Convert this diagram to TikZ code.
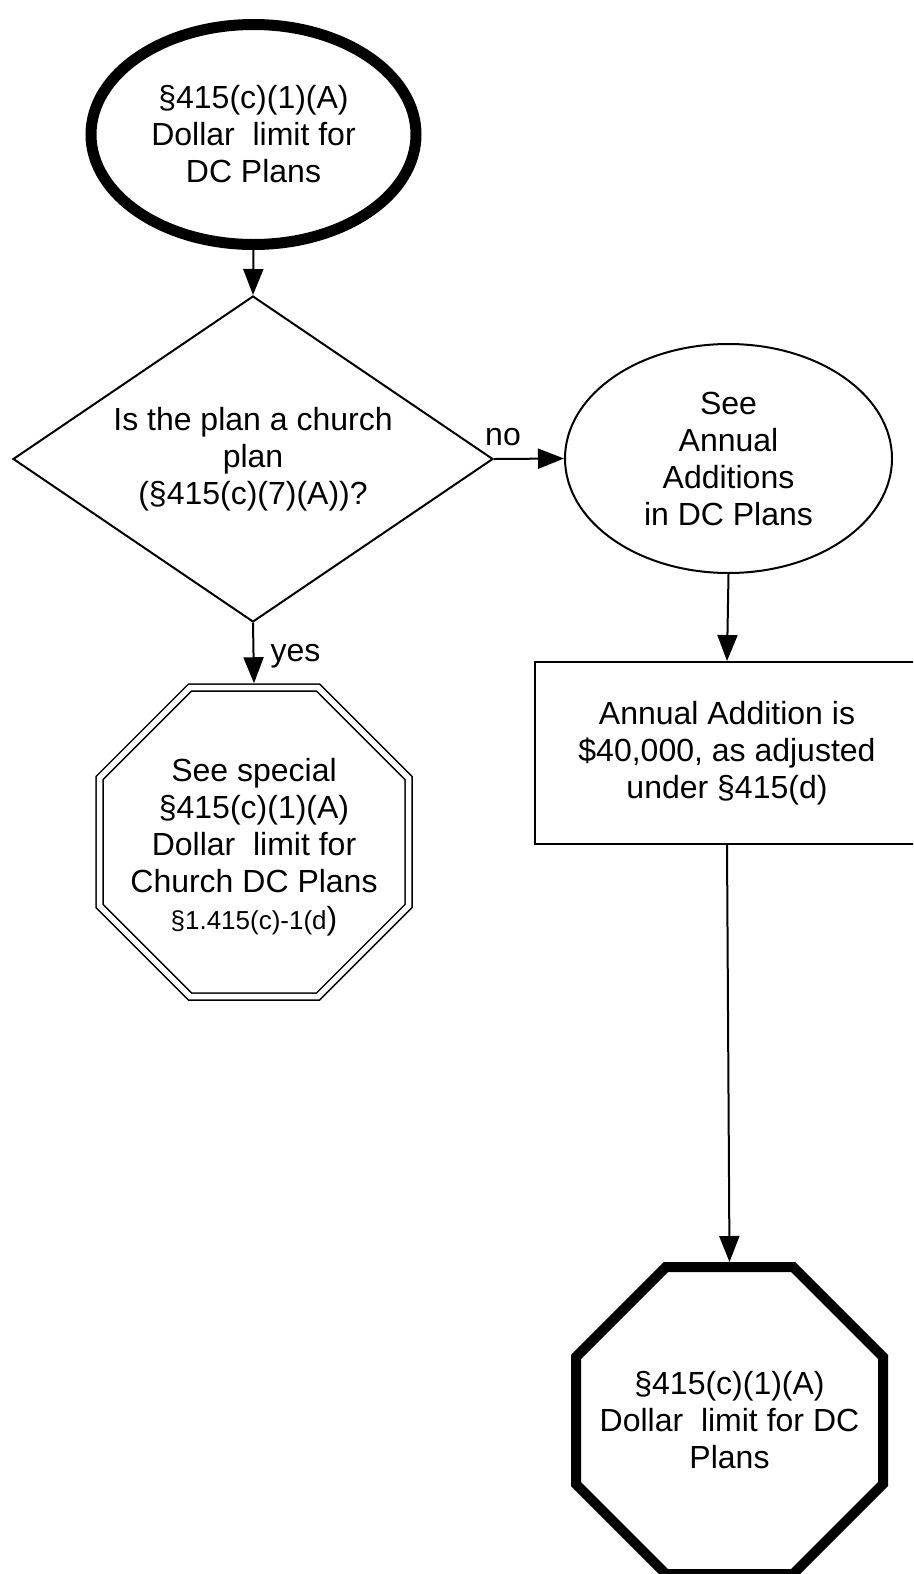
\documentclass[tikz,border=0pt]{standalone}
\usepackage{fontspec}
\setmainfont{Liberation Sans}
\usetikzlibrary{shapes.geometric,arrows.meta}

% Regular octagon with flat top, drawn around a node's centre.
% #1 draw options, #2 node name, #3 apothem (half the flat-to-flat width)
\newcommand\drawoctagon[3]{%
  \draw[#1, shift={(#2.center)}]
    ({-#3*0.414214},{-#3}) -- ({#3*0.414214},{-#3}) --
    ({#3},{-#3*0.414214}) -- ({#3},{#3*0.414214}) --
    ({#3*0.414214},{#3}) -- ({-#3*0.414214},{#3}) --
    ({-#3},{#3*0.414214}) -- ({-#3},{-#3*0.414214}) -- cycle;}

\begin{document}
\begin{tikzpicture}[x=1pt,y=-1pt,
  every node/.style={font=\fontsize{32}{37}\selectfont, align=center, inner sep=0pt},
  flow/.style={draw, line width=2pt, -{Triangle[length=26pt,width=20pt]}},
  thinline/.style={draw, line width=2pt},
  lbl/.style={font=\fontsize{32}{37}\selectfont}]

% page area
\useasboundingbox (0,0) rectangle (913,1574);
\fill[white] (0,0) rectangle (913,1574);
\clip (0,0) rectangle (913,1574);

% start: thick ellipse
\node[draw, ellipse, line width=11pt, minimum width=325pt, minimum height=220pt]
  (start) at (253.5,134.5) {§415(c)(1)(A)\\Dollar\ \ limit for\\DC Plans};

% decision
\node[thinline, diamond, aspect=1.47, minimum width=480pt, minimum height=326pt]
  (church) at (253,459) {Is the plan a church\\plan\\(§415(c)(7)(A))?};

% reference to annual additions
\node[thinline, ellipse, minimum width=327pt, minimum height=229pt]
  (annual) at (728.5,458.5) {See\\Annual\\Additions\\in DC Plans};

% annual addition amount
\node[thinline, rectangle, minimum width=384pt, minimum height=182pt]
  (amount) at (727,753) {Annual Addition is\\\$40,000, as adjusted\\under §415(d)};

% church plan terminal: double octagon
\node[minimum width=309pt, minimum height=309pt, outer sep=4.25pt]
  (special) at (254,842)
  {\rule{0pt}{33pt}See special\\§415(c)(1)(A)\\Dollar\ \ limit for\\Church DC Plans\\{\fontsize{26}{37}\selectfont §1.415(c)-1(d})};
\drawoctagon{double, line width=1.5pt, double distance=5.5pt}{special}{154.5}

% final terminal: thick octagon
\node[minimum width=307pt, minimum height=307pt, outer sep=5pt]
  (final) at (729.5,1420.5) {§415(c)(1)(A)\\Dollar\ \ limit for DC\\Plans};
\drawoctagon{line width=10pt}{final}{153.5}

% branch labels
\node[lbl] (nolbl) at (503,437) {no};
\node[lbl] (yeslbl) at (295.5,656) {yes};

% connectors
\draw[flow] (start.south) -- (church.north);
\draw[flow] (church.east) -- (annual.west);
\draw[flow] (church.south) -- (special.north);
\draw[flow] (annual.south) -- (amount.north);
\draw[flow] (amount.south) -- (final.north);

\end{tikzpicture}
\end{document}
